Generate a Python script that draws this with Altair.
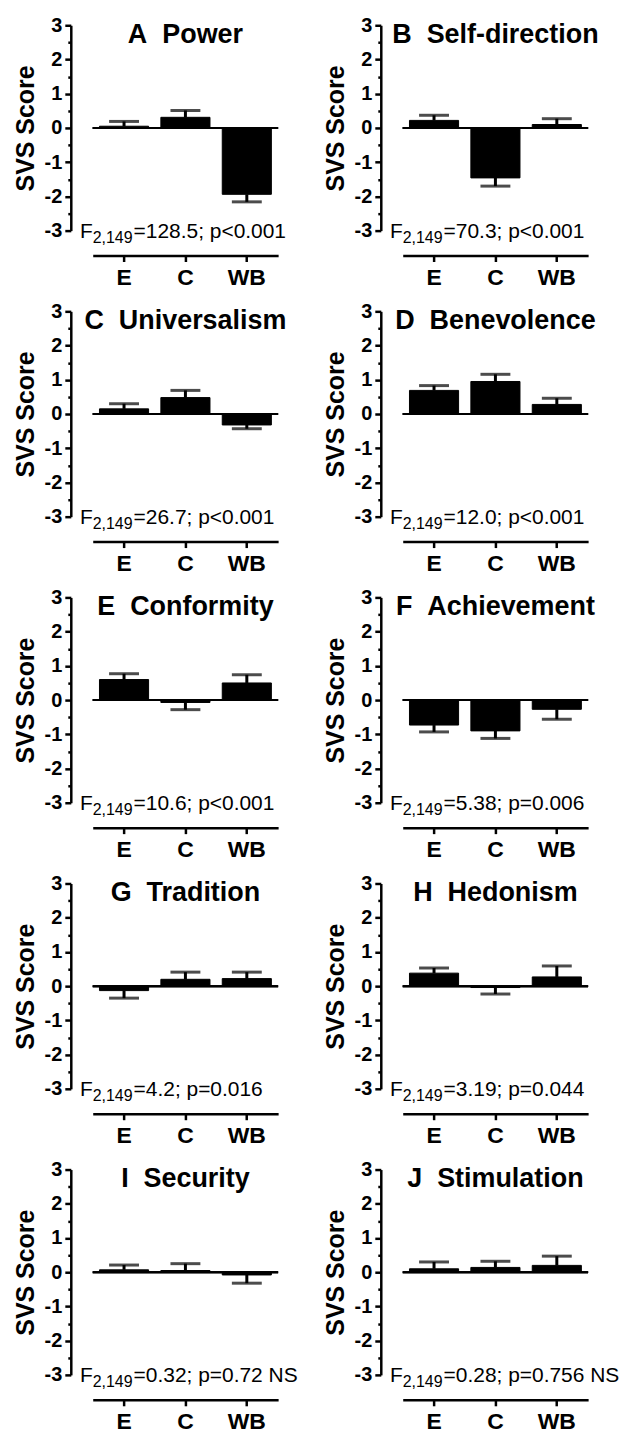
import altair as alt
import pandas as pd

groups = ["E", "C", "WB"]
letters = ["A", "B", "C", "D", "E", "F", "G", "H", "I", "J"]
names = ["Power", "Self-direction", "Universalism", "Benevolence", "Conformity",
         "Achievement", "Tradition", "Hedonism", "Security", "Stimulation"]
means = [
    [0.05, 0.31, -1.94],
    [0.22, -1.46, 0.10],
    [0.15, 0.48, -0.32],
    [0.69, 0.95, 0.28],
    [0.60, -0.07, 0.50],
    [-0.73, -0.90, -0.27],
    [-0.13, 0.20, 0.22],
    [0.38, -0.04, 0.27],
    [0.07, 0.05, -0.08],
    [0.10, 0.14, 0.20],
]
sems = [
    [0.14, 0.20, 0.22],
    [0.15, 0.24, 0.17],
    [0.15, 0.21, 0.11],
    [0.14, 0.21, 0.18],
    [0.17, 0.21, 0.24],
    [0.20, 0.22, 0.29],
    [0.22, 0.21, 0.19],
    [0.15, 0.19, 0.32],
    [0.14, 0.20, 0.24],
    [0.20, 0.18, 0.27],
]
f_sub = "2,149"
f_vals = ["128.5", "70.3", "26.7", "12.0", "10.6", "5.38", "4.2", "3.19", "0.32", "0.28"]
p_texts = ["p<0.001", "p<0.001", "p<0.001", "p<0.001", "p<0.001",
           "p=0.006", "p=0.016", "p=0.044", "p=0.72 NS", "p=0.756 NS"]
y_ticks = [-3, -2.5, -2, -1.5, -1, -0.5, 0, 0.5, 1, 1.5, 2, 2.5, 3]

FONT = "Liberation Sans"
W, H = 186, 206

XSCALE = alt.Scale(domain=groups, paddingInner=0.2, paddingOuter=0.11)
YSCALE = alt.Scale(domain=[-3, 3], nice=False, zero=False)

X_AXIS = alt.Axis(title=None, offset=25, labelAngle=0, labelFontSize=23,
                  labelFontWeight="bold", labelColor="black", labelPadding=5,
                  tickSize=6, tickWidth=2.5, tickColor="black",
                  domainWidth=2.5, domainColor="black", grid=False, labelFont=FONT)
Y_AXIS = alt.Axis(title="SVS Score", offset=22, values=y_ticks, orient="left",
                  labelExpr="datum.value % 1 === 0 ? toString(datum.value) : ''",
                  labelOverlap=False, labelBound=False, labelFlush=False,
                  tickSize={"condition": {"test": "datum.value % 1 !== 0", "value": 3}, "value": 6},
                  tickWidth=2.5, tickColor="black",
                  domainWidth=2.5, domainColor="black",
                  labelFont=FONT, labelFontSize=20, labelFontWeight="bold", labelColor="black",
                  labelPadding=3, grid=False,
                  titleFont=FONT, titleFontSize=25, titleFontWeight="bold", titleColor="black",
                  titlePadding=6)


def xenc():
    return alt.X("group:N", sort=groups, scale=XSCALE, axis=X_AXIS)


def yenc(field):
    return alt.Y(field, type="quantitative", scale=YSCALE, axis=Y_AXIS)


def panel(i):
    df = pd.DataFrame({
        "group": groups,
        "mean": means[i],
        "tip": [m + (s if m >= 0 else -s) for m, s in zip(means[i], sems[i])],
        "zero": [0, 0, 0],
    })
    ann = pd.DataFrame({
        "group": ["C"],
        "y": [-3],
        "title": [f"{letters[i]}\u00a0\u00a0{names[i]}"],
        "ytop": [3],
        "F": ["F"],
        "sub": [f_sub],
        "rest": [f"={f_vals[i]}; {p_texts[i]}"],
    })
    base = alt.Chart(df)
    bars = base.mark_bar(color="black", stroke="black", strokeWidth=1).encode(
        x=xenc(), y=yenc("mean"))
    err = base.mark_rule(strokeWidth=3, color="black").encode(
        x=xenc(), y=yenc("mean"), y2="tip:Q")
    zero = base.mark_rule(strokeWidth=2, color="black").encode(y=yenc("zero"))
    cap = base.mark_tick(size=30, thickness=3, color="black").encode(
        x=xenc(), y=yenc("tip"))

    abase = alt.Chart(ann)
    title = abase.mark_text(fontSize=27, fontWeight="bold", baseline="top",
                            align="center", dy=-3, color="black").encode(
        x=xenc(), y=yenc("ytop"), text="title:N")
    t_f = abase.mark_text(fontSize=21, baseline="alphabetic", align="right",
                          dx=-93, dy=7, color="black").encode(
        x=xenc(), y=yenc("y"), text="F:N")
    t_sub = abase.mark_text(fontSize=16, baseline="alphabetic", align="right",
                            dx=-53, dy=12, color="black").encode(
        x=xenc(), y=yenc("y"), text="sub:N")
    t_rest = abase.mark_text(fontSize=21, baseline="alphabetic", align="left",
                             dx=-52, dy=7, color="black").encode(
        x=xenc(), y=yenc("y"), text="rest:N")
    return alt.layer(bars, zero, err, cap, title, t_f, t_sub, t_rest).properties(
        width=W, height=H)


chart = (
    alt.concat(*[panel(i) for i in range(10)], columns=2,
               spacing={"row": 81, "column": 125}, bounds="flush")
    .configure(font=FONT, background="white")
    .configure_view(stroke=None)
    .configure_text(font=FONT)
    .configure_axis(labelFont=FONT, titleFont=FONT, labelOverlap=False)
)

chart.save("out.html", embed_options={"renderer": "svg", "actions": False})
